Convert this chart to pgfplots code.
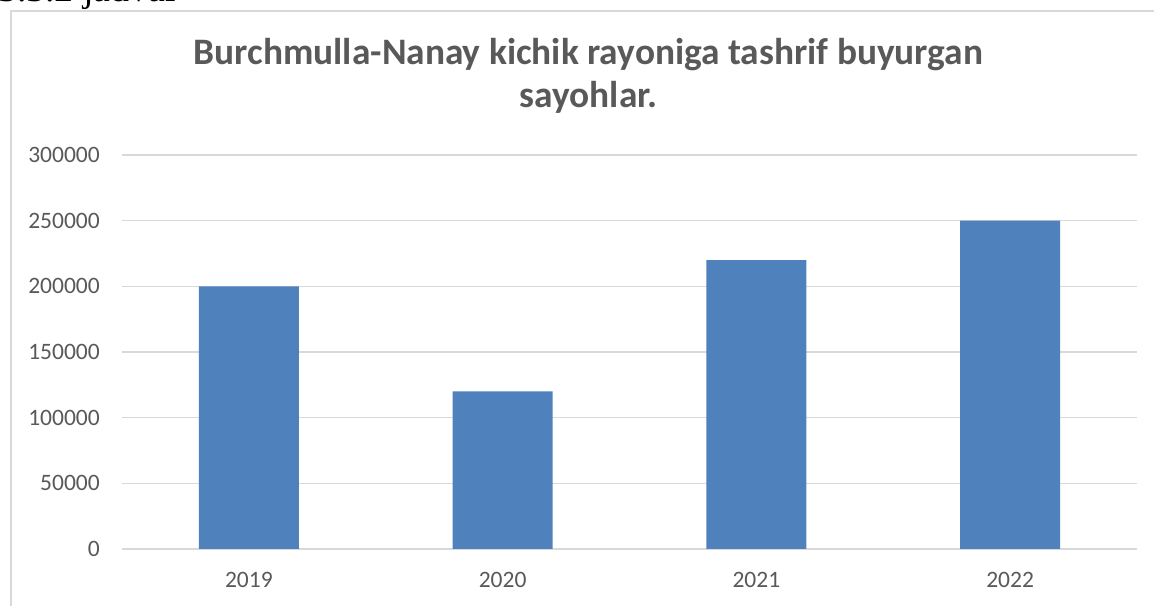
\documentclass[border=0pt]{standalone}
\usepackage{pgfplots}
\pgfplotsset{compat=1.18}
\usepackage{fontspec}
\setmainfont{Carlito}
\newfontfamily\timesfont{Liberation Serif}

\definecolor{barblue}{HTML}{4F81BD}
\definecolor{txtgray}{HTML}{595959}
\definecolor{gridgray}{HTML}{D9D9D9}

\begin{document}
\begin{tikzpicture}[x=1bp,y=1bp]
\useasboundingbox (0,0) rectangle (1154,606);
% chart frame (runs past the right and bottom edges)
\draw[gridgray, line width=1.5bp] (11,-20) -- (11,595) -- (1166,595) -- (1166,-20);
% caption cut off at the top
\node[anchor=base west, inner sep=0, font=\timesfont\fontsize{38}{44}\selectfont] at (-2,604.5) {3.3.2 jadval};
% title
\node[anchor=base, inner sep=0, text=txtgray, font=\bfseries\fontsize{37.5}{44}\selectfont] at (588.5,541.7) {Burchmulla-Nanay kichik rayoniga tashrif buyurgan};
\node[anchor=base, inner sep=0, text=txtgray, font=\bfseries\fontsize{37.5}{44}\selectfont] at (588.5,498.7) {sayohlar.};

\begin{axis}[
    at={(122bp,57bp)},
    anchor=south west,
    scale only axis,
    width=1015bp,
    height=394bp,
    xmin=-0.5, xmax=3.5,
    ymin=0, ymax=300000,
    xtick={0,1,2,3},
    xticklabels={2019,2020,2021,2022},
    ytick={0,50000,100000,150000,200000,250000,300000},
    scaled y ticks=false,
    /pgf/number format/assume math mode=true,
    yticklabel={\pgfmathprintnumber[fixed,1000 sep={}]{\tick}},
    ymajorgrids,
    major grid style={gridgray, line width=1.5bp},
    axis line style={draw=none},
    major tick length=0pt,
    tick label style={text=txtgray, font=\fontsize{23.6}{28}\selectfont, inner sep=0pt},
    yticklabel style={anchor=east, xshift=-22bp},
    xticklabel style={anchor=north, yshift=-23bp},
    clip=false,
]
\addplot[ybar, bar width=100bp, fill=barblue, draw=none] coordinates {
    (0, 200000)
    (1, 120000)
    (2, 220000)
    (3, 250000)
};
\end{axis}
\end{tikzpicture}
\end{document}
